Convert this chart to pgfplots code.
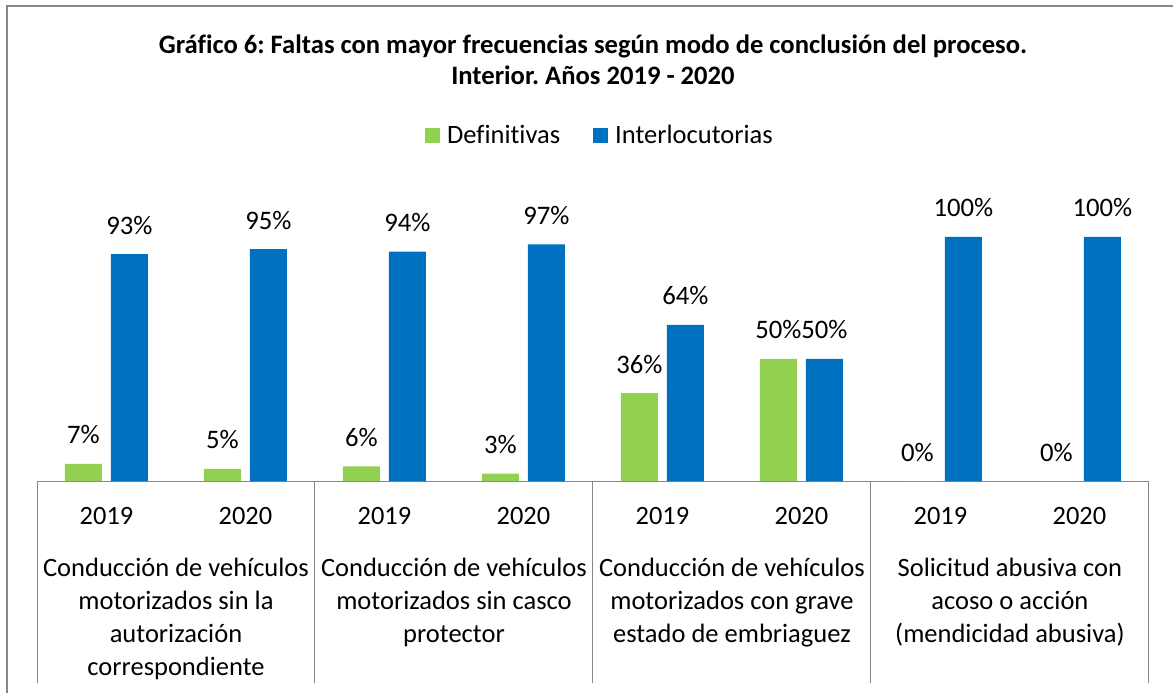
\documentclass[border=0pt]{standalone}
\usepackage{pgfplots}
\pgfplotsset{compat=1.18}
\usepackage{fontspec}
\setmainfont{Carlito}[Ligatures={NoCommon}]
\frenchspacing
\definecolor{cgreen}{HTML}{92D050}
\definecolor{cblue}{HTML}{0070C0}
\definecolor{cgray}{HTML}{868686}
\begin{document}
\begin{tikzpicture}
\useasboundingbox (0,0) rectangle (1173bp,693bp);
\draw[cgray, line width=1.5bp] (7bp,0) -- (7bp,687bp) -- (1173bp,687bp);
\begin{axis}[
  at={(37bp,212bp)}, anchor=origin,
  scale only axis, width=1112bp, height=244bp,
  xmin=0, xmax=8, ymin=0, ymax=100,
  clip=false,
  ybar=9bp, bar width=37bp,
  axis x line=bottom, hide y axis,
  x axis line style={-, draw=cgray, line width=1bp},
  xtick={0.5,1.5,2.5,3.5,4.5,5.5,6.5,7.5},
  xticklabels={2019,2020,2019,2020,2019,2020,2019,2020},
  major tick length=0pt,
  xticklabel style={font=\fontsize{26.5}{30}\selectfont, anchor=center, yshift=-35bp},
  extra x ticks={0,2,4,6,8}, extra x tick labels={},
  extra x tick style={major tick length=202bp, tick align=outside, xtick pos=bottom, tick style={draw=cgray, line width=1bp}},
  /pgf/number format/assume math mode=true,
  nodes near coords={\pgfmathprintnumber{\pgfplotspointmeta}\%},
  nodes near coords style={font=\fontsize{26.8}{30}\selectfont, text=black, anchor=base, yshift=20bp},
  legend style={at={(0.5063,1.418)}, anchor=center, draw=none, fill=none,
    legend columns=2, font=\fontsize{26.6}{30}\selectfont,
    /tikz/every odd column/.append style={column sep=5bp},
    /tikz/every even column/.append style={column sep=31bp}},
  legend image code/.code={\fill[#1] (0bp,-7.5bp) rectangle (15bp,7.5bp);},
]
\addplot[fill=cgreen, draw=none] coordinates {(0.5,7) (1.5,5) (2.5,6) (3.5,3) (4.5,36) (5.5,50) (6.5,0) (7.5,0)};
\addplot[fill=cblue, draw=none] coordinates {(0.5,93) (1.5,95) (2.5,94) (3.5,97) (4.5,64) (5.5,50) (6.5,100) (7.5,100)};
\legend{Definitivas, Interlocutorias}
\node[font=\bfseries\fontsize{26.7}{31}\selectfont, align=center] at (axis cs:4,172.5) {Gráfico 6: Faltas con mayor frecuencias según modo de conclusión del proceso.\\Interior. Años 2019 - 2020};
\node[anchor=north, align=center, inner sep=0pt, font=\fontsize{26.6}{33}\selectfont] at (axis cs:1,0) [yshift=-77bp] {Conducción de vehículos\\motorizados sin la\\autorización\\correspondiente};
\node[anchor=north, align=center, inner sep=0pt, font=\fontsize{26.6}{33}\selectfont] at (axis cs:3,0) [yshift=-77bp] {Conducción de vehículos\\motorizados sin casco\\protector};
\node[anchor=north, align=center, inner sep=0pt, font=\fontsize{26.6}{33}\selectfont] at (axis cs:5,0) [yshift=-77bp] {Conducción de vehículos\\motorizados con grave\\estado de embriaguez};
\node[anchor=north, align=center, inner sep=0pt, font=\fontsize{26.6}{33}\selectfont] at (axis cs:7,0) [yshift=-77bp] {Solicitud abusiva con\\acoso o acción\\(mendicidad abusiva)};
\end{axis}
\end{tikzpicture}
\end{document}
